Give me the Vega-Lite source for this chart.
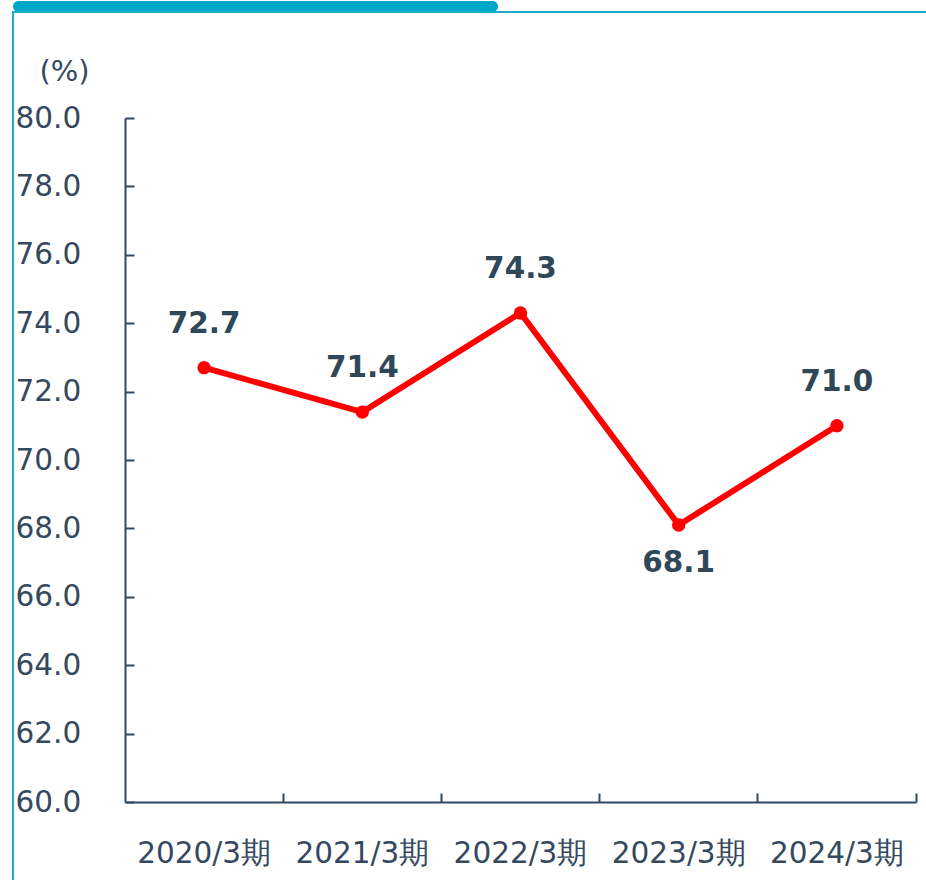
{
  "$schema": "https://vega.github.io/schema/vega-lite/v6.json",
  "padding": {"left": 12, "top": 0, "right": 0, "bottom": 0},
  "background": "white",
  "config": {"font": "DejaVu Sans"},
  "bounds": "flush",
  "spacing": 0,
  "data": {
    "values": [
      {"period": "2020/3期", "value": 72.7},
      {"period": "2021/3期", "value": 71.4},
      {"period": "2022/3期", "value": 74.3},
      {"period": "2023/3期", "value": 68.1},
      {"period": "2024/3期", "value": 71.0}
    ]
  },
  "vconcat": [
    {
      "width": 485,
      "height": 11,
      "view": {"fill": "#00a7c9", "stroke": null, "cornerRadius": 9},
      "mark": {"type": "text", "text": ""},
      "encoding": {}
    },
    {
      "width": 920,
      "height": 880,
      "view": {"stroke": "#1ab0cc", "strokeWidth": 2, "fill": null},
      "encoding": {
        "x": {
          "field": "period",
          "type": "ordinal",
          "bandPosition": 0.5,
          "sort": null,
          "scale": {"type": "band", "range": [112, 903], "paddingInner": 0, "paddingOuter": 0},
          "axis": {
            "orient": "bottom",
            "offset": -90,
            "title": null,
            "bandPosition": 1,
            "tickSize": -9,
            "tickWidth": 2,
            "tickColor": "#34495e",
            "domainColor": "#34495e",
            "domainWidth": 2,
            "labelAngle": 0,
            "labelBaseline": "middle",
            "labelPadding": 60,
            "labelFontSize": 29.5,
            "labelColor": "#34495e",
            "grid": false
          }
        },
        "y": {
          "field": "value",
          "type": "quantitative",
          "scale": {"domain": [60, 80], "range": [790, 106], "nice": false, "zero": false},
          "axis": {
            "orient": "left",
            "offset": -112,
            "values": [60, 62, 64, 66, 68, 70, 72, 74, 76, 78, 80],
            "format": ".1f",
            "tickSize": -9,
            "tickWidth": 2,
            "tickColor": "#34495e",
            "domainColor": "#34495e",
            "domainWidth": 2,
            "labelAlign": "left",
            "labelBaseline": "middle",
            "labelPadding": 119,
            "labelFontSize": 29.5,
            "labelColor": "#34495e",
            "grid": false,
            "title": "(%)",
            "titleAngle": 0,
            "titleAlign": "left",
            "titleBaseline": "middle",
            "titleFontWeight": "normal",
            "titleFontSize": 29,
            "titleColor": "#34495e",
            "titleX": -86,
            "titleY": 59
          }
        }
      },
      "layer": [
        {"mark": {"type": "line", "color": "#ff0000", "strokeWidth": 6}},
        {"mark": {"type": "circle", "color": "#ff0000", "opacity": 1, "size": 180}},
        {
          "transform": [{"filter": "datum.period !== '2023/3期'"}],
          "mark": {"type": "text", "dy": -44, "fontSize": 29.5, "fontWeight": "bold", "color": "#2f4858"},
          "encoding": {"text": {"field": "value", "type": "quantitative", "format": ".1f"}}
        },
        {
          "transform": [{"filter": "datum.period === '2023/3期'"}],
          "mark": {"type": "text", "dy": 38, "fontSize": 29.5, "fontWeight": "bold", "color": "#2f4858"},
          "encoding": {"text": {"field": "value", "type": "quantitative", "format": ".1f"}}
        }
      ]
    }
  ]
}
